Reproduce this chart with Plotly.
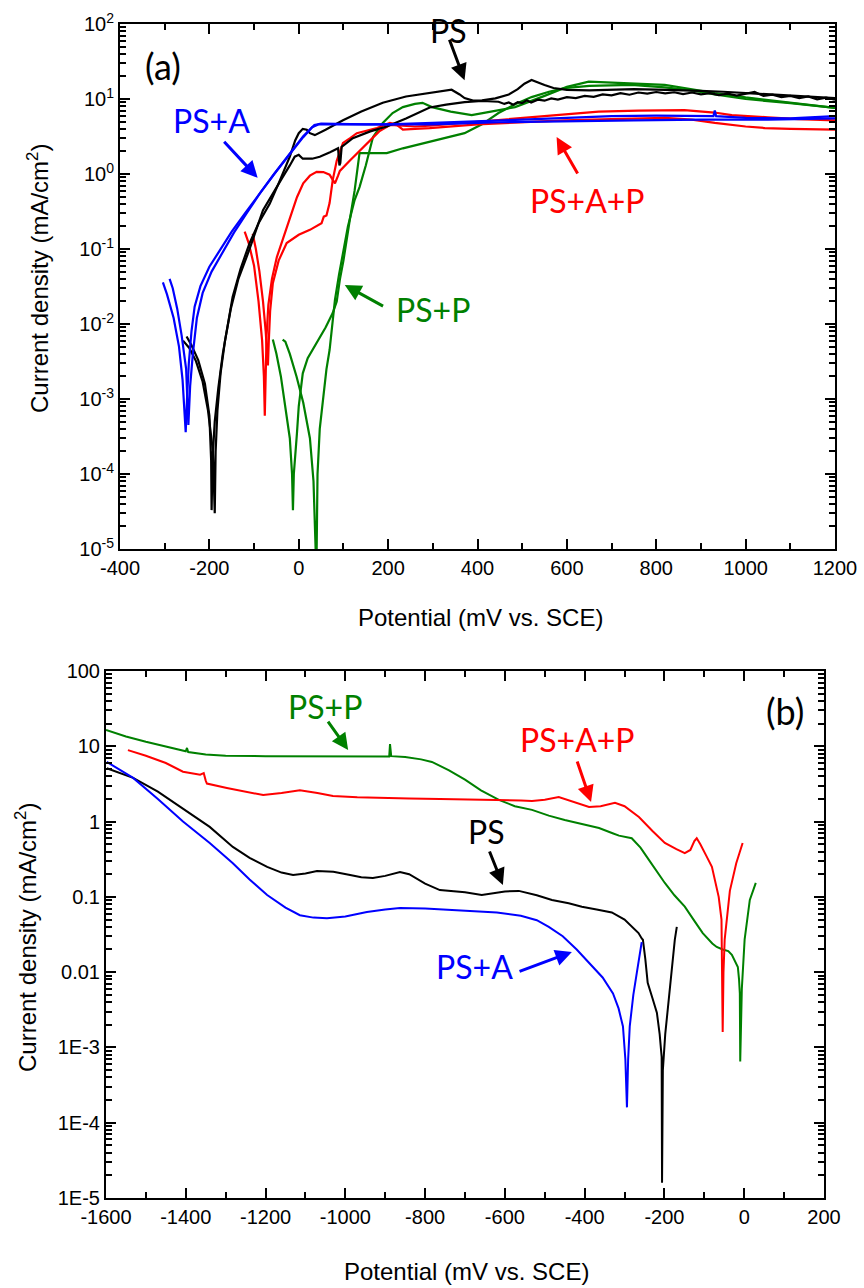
import plotly.graph_objects as go

# ---------------- Panel (a) data: potential (mV vs SCE), current density (mA/cm2)
a_ps1_E = [-251, -240, -225, -210, -200, -196, -195, -193, -188, -180, -170, -160, -148, -130, -110, -90, -65, -45, -20, -8, 0, 9, 18, 25, 36, 60, 99, 140, 188, 240, 293, 320, 342, 360, 371, 390, 410, 440, 470, 490, 505, 521, 535, 550, 570, 600, 650, 700, 750, 800, 850, 900, 950, 1000, 1050, 1100, 1150, 1200]
a_ps1_j = [0.0068, 0.0052, 0.0033, 0.0016, 0.0006, 0.00015, 0.000033, 0.00015, 0.0005, 0.0014, 0.004, 0.009, 0.023, 0.055, 0.12, 0.22, 0.40, 0.75, 1.7, 2.8, 3.5, 4.0, 3.9, 3.5, 3.3, 3.9, 5.2, 6.8, 8.9, 10.8, 12.0, 12.8, 13.3, 11.5, 10.3, 9.5, 9.6, 10.2, 11.5, 13.5, 16.0, 17.9, 16.5, 15.4, 14.0, 13.2, 13.0, 13.2, 13.5, 13.3, 13.2, 12.8, 12.5, 12.0, 11.5, 11.0, 10.6, 10.3]

a_ps2_E = [-259, -245, -230, -215, -203, -192, -188, -186, -182, -175, -165, -152, -135, -110, -80, -55, -36, -20, -9, 0, 9, 30, 47, 70, 88, 91, 93, 96, 121, 160, 197, 240, 293, 330, 371, 410, 447, 460, 470, 480, 490, 500, 510, 520, 535, 550, 565, 580, 600, 620, 640, 660, 680, 700, 720, 740, 760, 780, 800, 820, 840, 860, 880, 900, 920, 940, 960, 980, 1000, 1020, 1040, 1060, 1080, 1100, 1120, 1140, 1160, 1180, 1200]
a_ps2_j = [0.006, 0.0048, 0.0032, 0.0017, 0.0007, 0.0002, 0.00003, 0.0002, 0.0007, 0.0022, 0.006, 0.016, 0.04, 0.1, 0.33, 0.6, 0.91, 1.3, 1.7, 1.8, 1.6, 1.6, 1.7, 1.95, 2.2, 1.3, 1.4, 2.3, 3.0, 3.7, 4.3, 5.5, 7.7, 8.4, 9.1, 9.4, 9.2, 8.6, 9.0, 8.4, 9.1, 8.8, 9.6, 9.0, 9.8, 9.5, 10.2, 9.8, 10.6, 10.3, 11.0, 10.7, 11.5, 11.2, 12.0, 11.4, 12.2, 11.8, 12.4, 11.9, 12.3, 11.6, 12.2, 11.5, 12.0, 11.3, 11.8, 11.1, 11.7, 12.4, 11.0, 11.4, 10.6, 11.0, 10.3, 10.8, 9.9, 10.4, 9.8]

a_psa1_E = [-304, -295, -280, -268, -260, -255, -253, -250, -246, -240, -233, -220, -200, -177, -150, -120, -87, -55, -20, 10, 30, 45, 100, 200, 300, 400, 500, 600, 700, 800, 900, 928, 931, 934, 1000, 1100, 1200]
a_psa1_j = [0.036, 0.025, 0.012, 0.005, 0.0018, 0.0006, 0.00036, 0.001, 0.003, 0.008, 0.017, 0.032, 0.058, 0.095, 0.17, 0.30, 0.56, 1.0, 1.85, 3.1, 4.2, 4.6, 4.6, 4.6, 4.8, 5.0, 5.3, 5.6, 5.9, 6.0, 5.9, 5.9, 7.0, 5.9, 5.6, 5.5, 5.9]

a_psa2_E = [-289, -282, -272, -262, -252, -247, -243, -237, -228, -215, -195, -170, -145, -115, -87, -55, -20, 10, 35, 50, 150, 300, 450, 600, 750, 900, 1050, 1200]
a_psa2_j = [0.04, 0.03, 0.016, 0.007, 0.0025, 0.00045, 0.0015, 0.004, 0.012, 0.026, 0.05, 0.092, 0.165, 0.31, 0.55, 1.0, 1.9, 3.2, 4.5, 4.7, 4.6, 4.6, 4.9, 5.1, 5.2, 5.3, 5.3, 5.5]

a_psap1_E = [-121, -112, -100, -90, -82, -78, -76, -74, -72, -68, -60, -49, -35, -20, -4, 10, 25, 40, 55, 69, 78, 81, 88, 92, 114, 135, 159, 180, 204, 230, 260, 293, 350, 420, 521, 600, 671, 760, 863, 930, 969, 1050, 1118, 1200]
a_psap1_j = [0.17, 0.12, 0.06, 0.02, 0.006, 0.002, 0.0006, 0.002, 0.007, 0.018, 0.04, 0.078, 0.14, 0.25, 0.49, 0.75, 0.95, 1.07, 1.06, 0.98, 0.8, 0.75, 0.95, 1.1, 1.5, 2.0, 2.8, 3.7, 4.5, 4.4, 4.3, 4.4, 4.7, 5.0, 5.6, 6.2, 6.8, 7.0, 7.1, 6.6, 6.1, 5.7, 5.4, 5.2]

a_psap2_E = [-103, -96, -88, -80, -74, -71, -69, -67, -64, -58, -45, -27, 0, 25, 45, 51, 56, 62, 69, 76, 85, 99, 115, 130, 175, 204, 218, 233, 260, 293, 400, 500, 595, 700, 819, 880, 931, 1000, 1043, 1100, 1200]
a_psap2_j = [0.16, 0.10, 0.05, 0.02, 0.008, 0.004, 0.0028, 0.006, 0.015, 0.035, 0.07, 0.12, 0.155, 0.18, 0.21, 0.22, 0.27, 0.28, 0.41, 0.83, 1.5, 2.6, 3.0, 3.5, 4.1, 4.8, 4.6, 3.9, 4.0, 4.1, 4.6, 4.9, 5.2, 5.4, 5.6, 5.3, 4.8, 4.3, 4.1, 4.0, 3.9]

a_psp1_E = [-58, -50, -40, -30, -20, -15, -13, -11, -8, -4, 0, 9, 20, 40, 60, 76, 85, 92, 100, 114, 125, 136, 143, 170, 197, 233, 293, 330, 371, 410, 447, 484, 521, 560, 595, 650, 745, 819, 880, 931, 1000, 1100, 1200]
a_psp1_j = [0.0062, 0.004, 0.002, 0.0008, 0.0003, 0.0001, 0.000033, 0.0001, 0.0002, 0.00035, 0.0008, 0.0022, 0.0035, 0.0056, 0.009, 0.014, 0.02, 0.039, 0.07, 0.24, 0.6, 1.9, 1.9, 1.9, 1.9, 2.2, 2.7, 3.1, 3.5, 4.6, 6.5, 8.5, 10.6, 12.5, 14.0, 15.0, 15.4, 14.3, 13.0, 11.5, 10.0, 8.8, 7.6]

a_psp2_E = [-36, -30, -20, -5, 10, 25, 33, 36, 38, 40, 42, 47, 54, 62, 69, 75, 81, 90, 100, 110, 125, 136, 150, 166, 188, 210, 233, 260, 277, 298, 340, 387, 430, 484, 550, 600, 649, 700, 760, 819, 870, 931, 1000, 1043, 1100, 1200]
a_psp2_j = [0.0062, 0.0058, 0.004, 0.002, 0.0009, 0.0003, 0.00008, 0.00002, 0.000009, 0.000009, 0.0001, 0.0004, 0.00097, 0.0025, 0.0045, 0.01, 0.021, 0.045, 0.09, 0.2, 0.45, 0.67, 1.3, 3.1, 4.8, 6.5, 7.8, 8.6, 8.9, 7.8, 6.8, 6.1, 6.8, 7.8, 11.0, 14.5, 17.0, 16.5, 15.6, 15.4, 13.8, 12.0, 10.5, 9.8, 8.8, 7.6]

# ---------------- Panel (b) data
b_ps_E = [-1598, -1532, -1470, -1407, -1340, -1282, -1240, -1196, -1160, -1131, -1100, -1071, -1030, -988, -960, -931, -900, -863, -840, -800, -763, -700, -658, -600, -565, -520, -482, -440, -407, -370, -332, -300, -282, -265, -257, -254, -248, -242, -230, -219, -212, -207, -206, -204, -198, -191, -185, -179, -174, -169]
b_ps_j = [5.1, 3.8, 2.5, 1.5, 0.85, 0.46, 0.33, 0.25, 0.21, 0.195, 0.205, 0.22, 0.215, 0.195, 0.182, 0.178, 0.19, 0.214, 0.2, 0.15, 0.123, 0.115, 0.106, 0.118, 0.12, 0.105, 0.091, 0.082, 0.074, 0.068, 0.062, 0.05, 0.04, 0.033, 0.028, 0.027, 0.015, 0.0072, 0.0045, 0.0029, 0.0015, 0.00075, 0.000016, 0.0005, 0.0015, 0.0035, 0.0075, 0.016, 0.027, 0.040]

b_psa_E = [-1598, -1560, -1532, -1470, -1407, -1340, -1282, -1240, -1196, -1150, -1114, -1080, -1046, -1000, -946, -900, -863, -800, -700, -620, -560, -520, -490, -455, -420, -387, -355, -329, -315, -304, -298, -294, -291, -287, -278, -269, -257]
b_psa_j = [6.2, 4.7, 3.8, 2.0, 1.0, 0.52, 0.28, 0.17, 0.106, 0.072, 0.057, 0.053, 0.052, 0.055, 0.063, 0.068, 0.071, 0.070, 0.066, 0.062, 0.056, 0.049, 0.040, 0.030, 0.020, 0.013, 0.0085, 0.0052, 0.0033, 0.0019, 0.0007, 0.00016, 0.0007, 0.0019, 0.005, 0.010, 0.025]

b_psap_E = [-1545, -1500, -1450, -1407, -1364, -1355, -1350, -1347, -1297, -1250, -1206, -1160, -1114, -1070, -1031, -970, -906, -840, -763, -700, -620, -560, -532, -500, -465, -430, -389, -360, -324, -300, -264, -230, -199, -170, -149, -135, -125, -119, -110, -95, -81, -64, -57, -54, -52, -49, -43, -36, -20, -4]
b_psap_j = [8.9, 7.5, 6.0, 4.6, 4.2, 4.4, 3.5, 3.2, 2.8, 2.5, 2.25, 2.4, 2.6, 2.4, 2.18, 2.1, 2.05, 2.02, 2.0, 1.98, 1.92, 1.9, 1.88, 1.95, 2.12, 1.85, 1.56, 1.6, 1.77, 1.6, 1.15, 0.75, 0.52, 0.43, 0.38, 0.42, 0.55, 0.60, 0.50, 0.35, 0.25, 0.10, 0.05, 0.0016, 0.01, 0.027, 0.06, 0.12, 0.28, 0.52]

b_psp_E = [-1600, -1550, -1500, -1450, -1400, -1397, -1394, -1350, -1300, -1200, -1100, -1000, -900, -890, -888, -885, -850, -810, -783, -740, -700, -660, -615, -575, -532, -490, -450, -400, -364, -330, -314, -282, -260, -239, -220, -199, -175, -149, -125, -104, -80, -69, -54, -40, -31, -20, -16, -13, -11, -10, -8, -6, 1, 14, 29]
b_psp_j = [16.5, 13.5, 11.5, 10.0, 8.6, 9.5, 8.4, 7.8, 7.5, 7.4, 7.4, 7.4, 7.3, 7.3, 10.7, 7.4, 7.2, 6.7, 6.2, 4.8, 3.6, 2.6, 1.94, 1.6, 1.43, 1.2, 1.05, 0.92, 0.82, 0.70, 0.65, 0.60, 0.45, 0.31, 0.22, 0.153, 0.105, 0.074, 0.048, 0.033, 0.024, 0.0216, 0.020, 0.019, 0.017, 0.013, 0.0117, 0.008, 0.0052, 0.00065, 0.003, 0.006, 0.027, 0.091, 0.153]

# tick labels
a_x_ticks = [-400, -200, 0, 200, 400, 600, 800, 1000, 1200]
a_x_ticktext = ["-400", "-200", "0", "200", "400", "600", "800", "1000", "1200"]
a_y_tickvals = [1e-5, 1e-4, 1e-3, 1e-2, 1e-1, 1e0, 1e1, 1e2]
a_y_ticktext = ["10<sup>-5</sup>", "10<sup>-4</sup>", "10<sup>-3</sup>", "10<sup>-2</sup>",
                "10<sup>-1</sup>", "10<sup>0</sup>", "10<sup>1</sup>", "10<sup>2</sup>"]
b_x_ticks = [-1600, -1400, -1200, -1000, -800, -600, -400, -200, 0, 200]
b_x_ticktext = ["-1600", "-1400", "-1200", "-1000", "-800", "-600", "-400", "-200", "0", "200"]
b_y_tickvals = [1e-5, 1e-4, 1e-3, 1e-2, 1e-1, 1e0, 1e1, 1e2]
b_y_ticktext = ["1E-5", "1E-4", "1E-3", "0.01", "0.1", "1", "10", "100"]

BLACK, BLUE, RED, GREEN = "#000000", "#0000ff", "#ff0000", "#008000"

fig = go.Figure()

def add(E, j, color, xa, ya, w=2):
    fig.add_trace(go.Scatter(x=E, y=j, mode="lines", line=dict(color=color, width=w),
                             xaxis=xa, yaxis=ya, showlegend=False, hoverinfo="skip"))

for E, j, c in [(a_psp1_E, a_psp1_j, GREEN), (a_psp2_E, a_psp2_j, GREEN),
                (a_psap1_E, a_psap1_j, RED), (a_psap2_E, a_psap2_j, RED),
                (a_ps1_E, a_ps1_j, BLACK), (a_ps2_E, a_ps2_j, BLACK),
                (a_psa1_E, a_psa1_j, BLUE), (a_psa2_E, a_psa2_j, BLUE)]:
    add(E, j, c, "x", "y", 2.2)

for E, j, c in [(b_psp_E, b_psp_j, GREEN), (b_psap_E, b_psap_j, RED),
                (b_ps_E, b_ps_j, BLACK), (b_psa_E, b_psa_j, BLUE)]:
    add(E, j, c, "x2", "y2", 2)

TICKFONT = dict(family="Liberation Sans, Arial", size=20, color="black")
minor_log = [k * 10 ** e for e in range(-5, 2) for k in range(2, 10)]

def xaxis(dom, rng, anchor, tv, tt):
    return dict(domain=dom, range=rng, anchor=anchor, tickvals=tv, ticktext=tt,
                ticks="inside", ticklen=10, tickwidth=2, tickcolor="black",
                minor=dict(ticks="inside", ticklen=6, tickwidth=1.5, tickcolor="black", dtick=100, tick0=0),
                showline=True, linewidth=2, linecolor="black", mirror="ticks",
                showgrid=False, zeroline=False, tickfont=TICKFONT, automargin=False)

def yaxis(dom, anchor, tv, tt):
    return dict(domain=dom, type="log", range=[-5, 2], anchor=anchor,
                tickvals=tv, ticktext=tt,
                ticks="inside", ticklen=10, tickwidth=2, tickcolor="black",
                minor=dict(ticks="inside", ticklen=6, tickwidth=1.5, tickcolor="black", tickvals=minor_log),
                showline=True, linewidth=2, linecolor="black", mirror="ticks",
                showgrid=False, zeroline=False, tickfont=TICKFONT, automargin=False)

H = 1288
fig.update_layout(
    template="none",
    width=864, height=H, margin=dict(l=0, r=0, t=0, b=0, pad=0),
    paper_bgcolor="white", plot_bgcolor="white",
    xaxis=xaxis([120 / 864, 835 / 864], [-400, 1200], "y", a_x_ticks, a_x_ticktext),
    yaxis=yaxis([1 - 549 / H, 1 - 24 / H], "x", a_y_tickvals, a_y_ticktext),
    xaxis2=xaxis([106 / 864, 824 / 864], [-1600, 200], "y2", b_x_ticks, b_x_ticktext),
    yaxis2=yaxis([1 - 1198 / H, 1 - 671 / H], "x2", b_y_tickvals, b_y_ticktext),
)

LAB = "Lato, Carlito, Calibri, sans-serif"
TITLE = dict(family="Liberation Sans, Arial", size=24, color="black")

ann = []
def title(txt, xp, yp, angle=0):
    ann.append(dict(text=txt, xref="paper", yref="paper", x=xp / 864, y=1 - yp / H,
                    xanchor="center", yanchor="middle", showarrow=False,
                    textangle=angle, font=TITLE))

title("Potential (mV vs. SCE)", 481, 617)
title("Potential (mV vs. SCE)", 466, 1271)
title("Current density (mA/cm<sup>2</sup>)", 38, 279, -90)
title("Current density (mA/cm<sup>2</sup>)", 26, 938, -90)

def label(txt, x, y, color, xr, yr, size=32):
    ann.append(dict(text=txt, x=x, y=y, xref=xr, yref=yr, showarrow=False,
                    xanchor="center", yanchor="middle",
                    font=dict(family=LAB, size=size, color=color)))

def arrow(x0, y0, x1, y1, color, xr, yr):
    ann.append(dict(text="", x=x1, y=y1, ax=x0, ay=y0, xref=xr, yref=yr, axref=xr, ayref=yr,
                    showarrow=True, arrowhead=2, arrowsize=1.1, arrowwidth=3, arrowcolor=color,
                    standoff=0, startstandoff=0))

# panel (a) labels (y in log10 units)
label("(a)", -304, 1.44, BLACK, "x", "y", 36)
label("PS", 336, 1.92, BLACK, "x", "y")
arrow(336, 1.81, 371, 1.25, BLACK, "x", "y")
label("PS+A", -195, 0.707, BLUE, "x", "y")
arrow(-170, 0.45, -92, -0.05, BLUE, "x", "y")
label("PS+A+P", 647, -0.347, RED, "x", "y")
arrow(626, -0.013, 577, 0.493, RED, "x", "y")
label("PS+P", 300, -1.813, GREEN, "x", "y")
arrow(192, -1.773, 103, -1.48, GREEN, "x", "y")

# panel (b) labels
label("(b)", 102, 1.469, BLACK, "x2", "y2", 36)
label("PS+P", -1051, 1.522, GREEN, "x2", "y2")
arrow(-1046, 1.349, -993, 0.951, GREEN, "x2", "y2")
label("PS+A+P", -417, 1.084, RED, "x2", "y2")
arrow(-420, 0.818, -384, 0.26, RED, "x2", "y2")
label("PS", -645, -0.138, BLACK, "x2", "y2")
arrow(-640, -0.377, -605, -0.842, BLACK, "x2", "y2")
label("PS+A", -675, -1.931, BLUE, "x2", "y2")
arrow(-567, -1.997, -432, -1.732, BLUE, "x2", "y2")

fig.update_layout(annotations=ann)
fig.write_html("out.html")
